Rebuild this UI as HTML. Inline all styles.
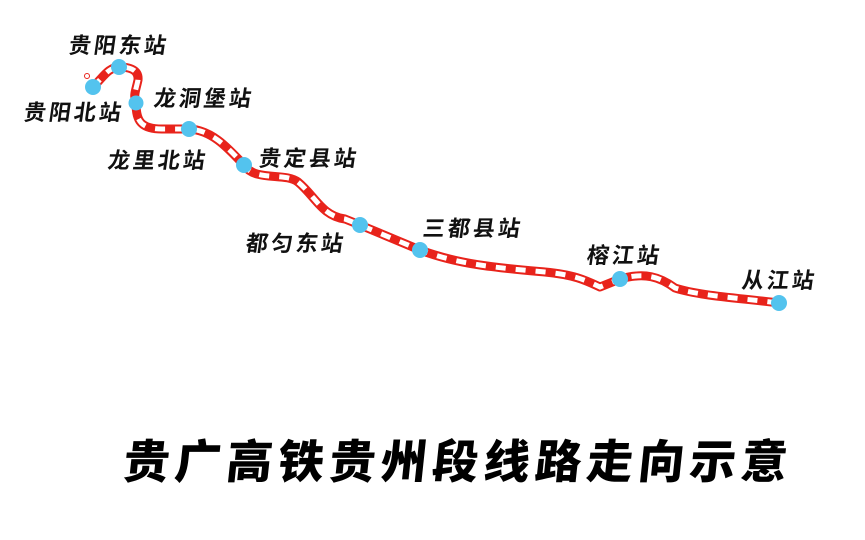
<!DOCTYPE html>
<html><head><meta charset="utf-8"><style>
html,body{margin:0;padding:0;background:#fff;}
body{width:865px;height:540px;overflow:hidden;position:relative;}
svg{position:absolute;left:0;top:0;}
.l{font-family:"Liberation Sans","Noto Sans CJK SC",sans-serif;font-weight:bold;font-size:22px;fill:#111;letter-spacing:3px;}
.t{font-family:"Liberation Sans","Noto Sans CJK SC",sans-serif;font-weight:900;font-size:46px;fill:#000;letter-spacing:5.5px;}
</style></head><body>
<svg width="865" height="540" viewBox="0 0 865 540">
<path d="M93,87 C105,75 108,68 119,67 C130,67 139,70 138,80 C136,90 133,95 136,103 C136,120 140,129 162,129 L189,129 C212,130 228,148 244,165 C255,182 285,172 298,182 C315,196 322,216 345,219 L360,225 L420,250 C460,265 500,268 545,272 C575,275 585,280 600,287 L620,279 C645,272 660,277 675,288 C700,296 740,298 779,303" fill="none" stroke="#e8231b" stroke-width="9" stroke-linejoin="round"/>
<path d="M93,87 C105,75 108,68 119,67 C130,67 139,70 138,80 C136,90 133,95 136,103 C136,120 140,129 162,129 L189,129 C212,130 228,148 244,165 C255,182 285,172 298,182 C315,196 322,216 345,219 L360,225 L420,250 C460,265 500,268 545,272 C575,275 585,280 600,287 L620,279 C645,272 660,277 675,288 C700,296 740,298 779,303" fill="none" stroke="#fff" stroke-width="5" stroke-dasharray="10 10"/>
<circle cx="87" cy="76" r="2.5" fill="none" stroke="#e8231b" stroke-width="1"/>
<g fill="#53c3ee">
<circle cx="93" cy="87" r="8"/><circle cx="119" cy="67" r="8"/><circle cx="136" cy="103" r="7.5"/>
<circle cx="189" cy="129" r="8"/><circle cx="244" cy="165" r="8"/><circle cx="360" cy="225" r="8"/>
<circle cx="420" cy="250" r="8"/><circle cx="620" cy="279" r="8"/><circle cx="779" cy="303" r="8"/>
</g>
<text class="l" transform="translate(68,53) skewX(-8)">贵阳东站</text>
<text class="l" transform="translate(23,120) skewX(-8)">贵阳北站</text>
<text class="l" transform="translate(153,106) skewX(-8)">龙洞堡站</text>
<text class="l" transform="translate(107,168) skewX(-8)">龙里北站</text>
<text class="l" transform="translate(258,166) skewX(-8)">贵定县站</text>
<text class="l" transform="translate(245,251) skewX(-8)">都匀东站</text>
<text class="l" transform="translate(422,236) skewX(-8)">三都县站</text>
<text class="l" transform="translate(586,263) skewX(-8)">榕江站</text>
<text class="l" transform="translate(741,288) skewX(-8)">从江站</text>
<text class="t" transform="translate(122,478) skewX(-6)">贵广高铁贵州段线路走向示意</text>
</svg>
</body></html>
